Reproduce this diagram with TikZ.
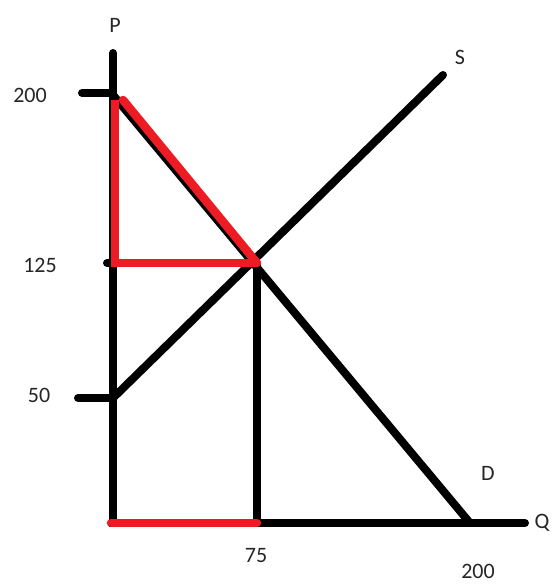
\documentclass[tikz,border=0pt]{standalone}
\usepackage{fontspec}
\setmainfont{Carlito}
\definecolor{myred}{RGB}{237,28,36}
\begin{document}
\begin{tikzpicture}[x=1pt,y=-1pt,
  blk/.style={line width=8pt,black,line cap=round},
  redl/.style={line width=8.5pt,myred,line cap=round},
  lbl/.style={font=\fontsize{22}{26}\selectfont,text=black!85,inner sep=0pt}]
\useasboundingbox (0,0) rectangle (555,586);
% key points
\coordinate (Otop) at (113,53);
\coordinate (O) at (113,523);
\coordinate (Qend) at (525,523);
\coordinate (P200) at (113,93);
\coordinate (P50) at (113,398);
\coordinate (P125) at (113,263);
\coordinate (E) at (257,263);
\coordinate (Q75) at (257,523);
\coordinate (Dend) at (470,523);
\coordinate (Send) at (443,75);
\coordinate (T200) at (82,93);
\coordinate (T50) at (78,398);
\coordinate (T125) at (107,263);
\coordinate (R0) at (111,523);
% axes
\draw[blk] (Otop) -- (O) -- (Qend);
% ticks
\draw[blk] (T200) -- (P200);
\draw[blk] (T50) -- (P50);
\draw[blk] (T125) -- (P125);
\draw[line width=4pt] (109,315) -- (117,315);
\draw[line width=4pt] (111,452) -- (117,452);
% demand and supply
\draw[blk] (113,95) -- (Dend);
\draw[blk] (P50) -- (Send);
\draw[blk] (E) -- (Q75);
% red lines
\draw[redl,line cap=butt] (115,100) -- (115,263) -- (E);
\draw[redl] (123,100) -- (E);
\draw[redl] (R0) -- (Q75);
% labels
\node[lbl] (lP) at (115,25) {P};
\node[lbl] (lS) at (460,57) {S};
\node[lbl] (lD) at (488,473) {D};
\node[lbl] (lQ) at (542,523) {Q};
\node[lbl] (l200) at (30,95) {200};
\node[lbl] (l125) at (40,265) {125};
\node[lbl] (l50) at (39,395) {50};
\node[lbl] (l75) at (256,556) {75};
\node[lbl] (l200q) at (478,571) {200};
\end{tikzpicture}
\end{document}
